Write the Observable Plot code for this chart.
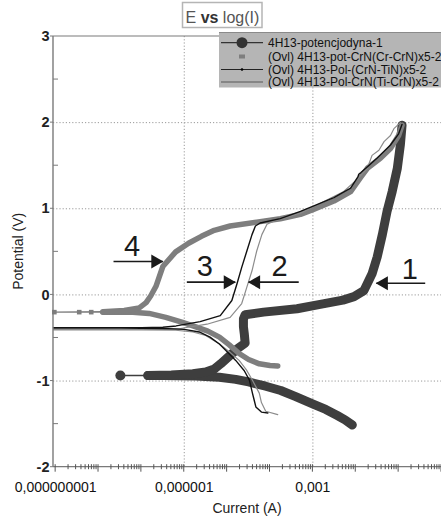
<!DOCTYPE html>
<html><head><meta charset="utf-8">
<script src="https://cdn.jsdelivr.net/npm/d3@7"></script>
<script src="https://cdn.jsdelivr.net/npm/@observablehq/plot@0.6"></script>
<style>
body{margin:0;background:#fff;}
#chart{position:relative;width:441px;height:518px;overflow:hidden;}
</style>
</head><body><div id="chart"></div>
<script>
// ---- data: [log10(current/A), potential V] ----
const seriesNames = [
  "4H13-potencjodyna-1",
  "(Ovl) 4H13-pot-CrN(Cr-CrN)x5-2",
  "(Ovl) 4H13-Pol-(CrN-TiN)x5-2",
  "(Ovl) 4H13-Pol-CrN(Ti-CrN)x5-2"
];
const xTickValues = [1e-9, 1e-6, 1e-3];
const xTickLabels = ["0,000000001", "0,000001", "0,001"];
const yTickValues = [3, 2, 1, 0, -1, -2];
const yTickLabels = ["3", "2", "1", "0", "-1", "-2"];
const logIMin = -9.05, logIMax = 0;

// series 1 (curve 1)
const s1Cathodic = [[-2.08,-1.51],[-2.25,-1.45],[-2.43,-1.40],[-2.70,-1.33],[-2.98,-1.27],[-3.40,-1.18],[-3.75,-1.11],[-4.10,-1.06],[-4.50,-1.01],[-4.80,-0.98],[-5.18,-0.955],[-5.73,-0.94],[-6.50,-0.935],[-6.85,-0.935]];
const s1Ecorr = [[-7.49,-0.935]];
const s1Anodic = [[-6.85,-0.935],[-6.3,-0.93],[-5.8,-0.915],[-5.5,-0.895],[-5.3,-0.86],[-5.15,-0.80],[-4.95,-0.71],[-4.75,-0.62],[-4.58,-0.56],[-4.60,-0.45],[-4.62,-0.37],[-4.62,-0.28],[-4.58,-0.23],[-4.15,-0.20],[-3.37,-0.16],[-2.83,-0.11],[-2.3,-0.06],[-2.04,-0.02],[-1.81,0.05],[-1.62,0.245],[-1.50,0.44],[-1.38,0.70],[-1.27,0.97],[-1.15,1.20],[-1.03,1.47],[-0.96,1.74],[-0.92,1.97]];

// series 2 (curve 4)
const s2Cathodic = [[-3.82,-0.824],[-4.0,-0.82],[-4.25,-0.80],[-4.50,-0.75],[-4.72,-0.68],[-4.95,-0.58],[-5.18,-0.49],[-5.45,-0.42],[-5.73,-0.37],[-6.04,-0.32],[-6.43,-0.26],[-6.82,-0.215],[-7.2,-0.20],[-7.9,-0.20]];
const s2Flat = [[-7.9,-0.20],[-9.05,-0.20],[-7.9,-0.195]];
const s2FlatMarkers = [[-9.03,-0.20],[-8.45,-0.20],[-8.17,-0.20]];
const s2Anodic = [[-7.9,-0.195],[-7.4,-0.18],[-7.05,-0.15],[-6.89,-0.09],[-6.78,-0.01],[-6.66,0.10],[-6.5,0.33],[-6.2,0.50],[-5.9,0.60],[-5.6,0.68],[-5.3,0.75],[-4.93,0.80],[-4.31,0.845],[-3.76,0.885],[-3.29,0.935],[-3.0,0.99],[-2.51,1.09],[-2.12,1.20],[-1.89,1.36],[-1.73,1.47],[-1.42,1.59],[-1.19,1.70],[-1.0,1.85],[-0.92,1.97]];

// series 3 (curve 3)
const s3Points = [[-4.05,-1.37],[-4.2,-1.36],[-4.33,-1.30],[-4.38,-1.2],[-4.41,-1.14],[-4.48,-0.99],[-4.6,-0.88],[-4.80,-0.76],[-5.0,-0.66],[-5.18,-0.57],[-5.4,-0.49],[-5.65,-0.43],[-6.0,-0.40],[-6.5,-0.39],[-7.5,-0.385],[-9.05,-0.385],
  [-9.05,-0.38],[-7.0,-0.38],[-6.5,-0.375],[-6.19,-0.36],[-5.63,-0.31],[-5.16,-0.24],[-4.89,-0.065],[-4.77,0.13],[-4.66,0.32],[-4.54,0.51],[-4.42,0.70],[-4.34,0.80],[-4.23,0.835],[-3.76,0.885],[-3.29,0.97],[-2.51,1.13],[-2.12,1.24],[-1.95,1.37],[-1.93,1.40],[-1.88,1.42],[-1.70,1.50],[-1.50,1.59],[-1.19,1.74],[-1.0,1.87],[-0.92,1.98]];

// series 4 (curve 2)
const s4Points = [[-3.82,-1.39],[-4.10,-1.35],[-4.2,-1.25],[-4.25,-1.14],[-4.41,-0.99],[-4.55,-0.87],[-4.72,-0.76],[-4.95,-0.66],[-5.18,-0.57],[-5.5,-0.47],[-5.8,-0.43],[-6.2,-0.41],[-7.0,-0.405],[-9.05,-0.405],
  [-9.05,-0.40],[-6.6,-0.40],[-6.09,-0.39],[-5.47,-0.34],[-4.93,-0.26],[-4.66,-0.10],[-4.54,0.09],[-4.42,0.28],[-4.31,0.51],[-4.19,0.70],[-4.07,0.82],[-3.9,0.86],[-3.29,0.95],[-3.0,1.02],[-2.28,1.2],[-1.95,1.35],[-1.73,1.47],[-1.62,1.62],[-1.46,1.68],[-1.34,1.78],[-1.19,1.85],[-1.11,1.93],[-0.96,2.0]];

// annotations: arrows (log10 I from, to, E) and numbers
const arrowLabels = ["4", "3", "2", "1"];
const arrowFrom = [-7.65, -5.94, -3.33, -0.38];
const arrowTo = [-6.50, -4.81, -4.50, -1.52];
const arrowE = [0.388, 0.148, 0.148, 0.136];
const labelLogI = [-7.22, -5.52, -3.78, -0.74];
const labelE = [0.554, 0.33, 0.33, 0.29];

// ---- build ----
const pts = a => a.map(([l, e]) => ({I: 10 ** l, E: e}));
const I = d => d.I, E = d => d.E;
const arrows = arrowLabels.map((t, i) => ({t, x1: 10 ** arrowFrom[i], x2: 10 ** arrowTo[i], y: arrowE[i],
  dir: arrowTo[i] > arrowFrom[i] ? 1 : -1, lx: 10 ** labelLogI[i], ly: labelE[i]}));

const cDark = "#3e3e3e", cMid = "#7e7e7e", cBlack = "#111", cThin = "#8c8c8c";

const plot = Plot.plot({
  width: 441, height: 518,
  marginLeft: 53, marginRight: 0, marginTop: 36, marginBottom: 51.3,
  x: {type: "log", domain: [10 ** logIMin, 10 ** logIMax], axis: null},
  y: {domain: [-2, 3], axis: null},
  style: {fontFamily: "'Liberation Sans', Arial, sans-serif", background: "white", overflow: "visible"},
  marks: [
    Plot.gridX(xTickValues.slice(1), {stroke: "#9a9a9a", strokeOpacity: 1, strokeDasharray: "1.2,2"}),
    Plot.gridY(yTickValues.slice(1, 5), {stroke: "#9a9a9a", strokeOpacity: 1, strokeDasharray: "1.2,2"}),
    // series 1
    Plot.line(pts([...s1Cathodic, ...s1Ecorr, ...s1Anodic]), {x: I, y: E, stroke: cDark, strokeWidth: 1.5}),
    Plot.line(pts(s1Cathodic), {x: I, y: E, stroke: cDark, strokeWidth: 9, strokeLinecap: "round", strokeLinejoin: "round"}),
    Plot.line(pts(s1Anodic), {x: I, y: E, stroke: cDark, strokeWidth: 9, strokeLinecap: "round", strokeLinejoin: "round"}),
    Plot.dot(pts(s1Ecorr), {x: I, y: E, r: 5, fill: cDark}),
    // series 2
    Plot.line(pts(s2Flat), {x: I, y: E, stroke: cMid, strokeWidth: 1.2}),
    Plot.dot(pts(s2FlatMarkers), {x: I, y: E, symbol: "square", r: 2.6, fill: cMid}),
    Plot.line(pts(s2Cathodic), {x: I, y: E, stroke: cMid, strokeWidth: 5.5, strokeLinecap: "round", strokeLinejoin: "round"}),
    Plot.line(pts(s2Anodic), {x: I, y: E, stroke: cMid, strokeWidth: 5.5, strokeLinecap: "round", strokeLinejoin: "round"}),
    // series 4 (thin gray)
    Plot.line(pts(s4Points), {x: I, y: E, stroke: cThin, strokeWidth: 1.2}),
    // series 3 (black)
    Plot.line(pts(s3Points), {x: I, y: E, stroke: cBlack, strokeWidth: 1.4}),
    // annotations
    Plot.link(arrows, {x1: "x1", x2: "x2", y1: "y", y2: "y", stroke: "#1a1a1a", strokeWidth: 1.6}),
    Plot.dot(arrows, {x: "x2", y: "y", symbol: "triangle", r: 5.2, fill: "#1a1a1a", stroke: "none",
      rotate: d => d.dir > 0 ? 90 : -90}),
    Plot.text(arrows, {x: "lx", y: "ly", text: "t", fontSize: 29, fill: "#1a1a1a", textAnchor: "middle", lineAnchor: "middle"}),
    // y tick labels
    Plot.text(yTickValues.map((v, i) => ({v, t: yTickLabels[i]})), {x: 10 ** logIMin, y: "v", text: "t", dx: -4, textAnchor: "end",
      fontSize: 14.5, fontWeight: "bold", fill: "#222", lineAnchor: "middle"}),
    // x tick labels
    Plot.text(xTickValues.map((v, i) => ({v, t: xTickLabels[i]})), {x: "v", y: -2, text: "t", dy: 20, fontSize: 14, fill: "#111", lineAnchor: "middle"})
  ]
});

// shift triangles so that their tip lies at the arrow end
const svg = d3.select(plot);
const xs = plot.scale("x"), ys = plot.scale("y");
svg.selectAll("path").each(function(){
  const tr = this.getAttribute("transform");
  if (!tr) return;
  const m = /translate\(([-\d.]+),([-\d.]+)\)\s*rotate\(([-\d.]+)\)/.exec(tr);
  if (m) {
    const r = +m[3]; const off = r > 0 ? -7.5 : 7.5;
    this.setAttribute("transform", `translate(${+m[1] + off},${+m[2]}) rotate(${r})`);
  }
});

// axes and frame
const x0 = xs.apply(10 ** logIMin), x1 = xs.apply(10 ** logIMax);
const yb = ys.apply(-2), yt = ys.apply(3);
const g = svg.append("g").attr("stroke", "#7a7a7a").attr("fill", "none");
g.append("line").attr("x1", x0).attr("x2", x0).attr("y1", yt).attr("y2", yb).attr("stroke-width", 1.4);
g.append("line").attr("x1", x0).attr("x2", x1).attr("y1", yb).attr("y2", yb).attr("stroke-width", 1.2);
g.append("line").attr("x1", x0).attr("x2", x1).attr("y1", yt).attr("y2", yt).attr("stroke-width", 1.2);
for (let d = -10; d <= 0; d++) for (let m = 1; m <= 9; m++) {
  const v = m * 10 ** d; if (Math.log10(v) < logIMin + 0.05 || v > 10 ** logIMax) continue;
  const px = xs.apply(v);
  g.append("line").attr("x1", px).attr("x2", px).attr("y1", yb - 2.5).attr("y2", yb + (m === 1 ? 5 : 2.5)).attr("stroke-width", 1).attr("stroke", "#555");
}
[2.5, 1.5, 0.5, -0.5, -1.5].forEach(v => {
  const py = ys.apply(v);
  g.append("line").attr("x1", x0).attr("x2", x0 + 5).attr("y1", py).attr("y2", py).attr("stroke-width", 1);
});
yTickValues.forEach(v => {
  const py = ys.apply(v);
  g.append("line").attr("x1", x0 - 3).attr("x2", x0).attr("y1", py).attr("y2", py).attr("stroke-width", 1);
});

// axis titles
svg.append("text").attr("x", (x0 + x1) / 2).attr("y", 513).attr("text-anchor", "middle")
  .attr("font-size", 14).attr("fill", "#222").text("Current (A)");
svg.append("text").attr("transform", `translate(23,${(yt + yb) / 2}) rotate(-90)`).attr("text-anchor", "middle")
  .attr("font-size", 14).attr("fill", "#222").text("Potential (V)");

// title box
const tg = svg.append("g");
tg.append("rect").attr("x", 182.5).attr("y", 2.5).attr("width", 79.5).attr("height", 25).attr("fill", "#fff").attr("stroke", "#b5b5b5").attr("stroke-width", 1.5);
const tt = tg.append("text").attr("x", 185.5).attr("y", 23).attr("text-anchor", "start").attr("font-size", 16).attr("fill", "#555");
tt.append("tspan").text("E ");
tt.append("tspan").attr("font-weight", "bold").attr("fill", "#333").text("vs");
tt.append("tspan").text(" log(I)");

// legend
const lg = svg.append("g");
lg.append("rect").attr("x", 219).attr("y", 32).attr("width", 240).attr("height", 55.5).attr("fill", "#b5b5b5");
lg.append("line").attr("x1", 219).attr("x2", 441).attr("y1", 32.5).attr("y2", 32.5).attr("stroke", "#8a8a8a").attr("stroke-width", 1);
const ly = [42.7, 56.5, 69.5, 82];
const lx1 = 221, lx2 = 263, lxm = 242;
lg.append("line").attr("x1", lx1).attr("x2", lx2).attr("y1", ly[0]).attr("y2", ly[0]).attr("stroke", "#333").attr("stroke-width", 1.3);
lg.append("circle").attr("cx", lxm).attr("cy", ly[0]).attr("r", 5.5).attr("fill", "#333");
lg.append("rect").attr("x", lxm - 3).attr("y", ly[1] - 2).attr("width", 6).attr("height", 4).attr("fill", cMid);
lg.append("line").attr("x1", lx1).attr("x2", lx2).attr("y1", ly[2]).attr("y2", ly[2]).attr("stroke", "#222").attr("stroke-width", 1);
lg.append("circle").attr("cx", lxm).attr("cy", ly[2]).attr("r", 1.3).attr("fill", "#000");
lg.append("line").attr("x1", lx1).attr("x2", lx2).attr("y1", ly[3]).attr("y2", ly[3]).attr("stroke", "#777").attr("stroke-width", 1.3);
seriesNames.forEach((n, i) => {
  lg.append("text").attr("x", 268).attr("y", ly[i] + 4.2).attr("text-anchor", "start").attr("font-size", 12).attr("fill", "#111").text(n);
});

document.getElementById("chart").appendChild(plot);
</script>
</body></html>
